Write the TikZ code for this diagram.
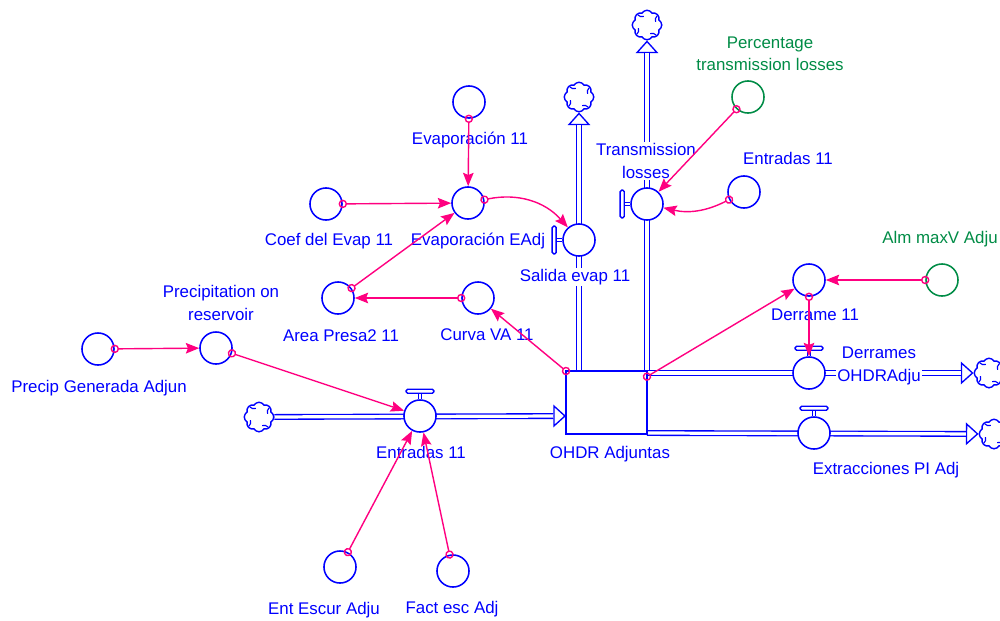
\documentclass[tikz,border=0pt]{standalone}
\usepackage{fontspec}
\setmainfont{Liberation Sans}
\usepackage{tikz}
\usetikzlibrary{positioning,arrows.meta,shapes.symbols}
\pgfdeclarelayer{back}
\pgfsetlayers{back,main}

\definecolor{vblue}{RGB}{0,0,255}
\definecolor{vgreen}{RGB}{0,140,70}
\definecolor{vpink}{RGB}{255,0,128}

\begin{document}
\begin{tikzpicture}[x=0.025cm,y=-0.025cm,
aux/.style={
circle,
draw=vblue,
fill=white,
line width=1.1pt,
minimum size=22.8pt,
inner sep=0pt
},
gaux/.style={aux,draw=vgreen},
valve/.style={aux},
stock/.style={
rectangle,
draw=vblue,
fill=white,
line width=0.9pt,
minimum width=57.6pt,
minimum height=44.8pt,
inner sep=0pt,
outer sep=0pt
},
cloudy/.style={
cloud,cloud puffs=8,cloud puff arc=120,aspect=1,
draw=vblue,fill=white,line width=1pt,
minimum size=21pt,inner sep=0pt,
path picture={
\foreach \a in {20,110,200,290}
\draw[vblue,line width=0.8pt] (path picture bounding box.center) ++(\a:6.5pt) arc[start angle=\a+180,delta angle=-70,radius=4pt];
}
},
pipe/.style={draw=vblue,line width=0.95pt,double=white,double distance=2.3pt},
pipehead/.style={draw=vblue,line width=0.95pt,-{Triangle[width=16pt,length=9pt,fill=white]}},
tapstem/.style={draw=vblue,line width=0.7pt,double=white,double distance=1.6pt},
tapbar/.style={draw=vblue,line width=1pt,fill=white,rounded corners=1.2pt},
lbl/.style={text=vblue,font=\fontsize{12}{16}\selectfont,align=center,inner sep=1pt,fill=white},
glbl/.style={lbl,text=vgreen},
link/.style={draw=vpink,line width=1pt,
{Circle[open,length=6pt,width=6pt]}-{Stealth[length=9.5pt,width=7.5pt,inset=1.5pt]},
shorten <=-3pt}
]
\useasboundingbox (0,0) rectangle (1000,620);

% stock and clouds
\node[stock] (ohdr) at (606.5,402.5) {};
\node[cloudy] (cloudIn) at (259,417) {};
\node[cloudy] (cloudSal) at (579,97) {};
\node[cloudy] (cloudTrans) at (647,25) {};
\node[cloudy] (cloudDer) at (989,373) {};
\node[cloudy] (cloudExt) at (994,434) {};

% valves
\node[valve] (entradasV) at (420,416) {};
\node[valve] (salidaV) at (579,240) {};
\node[valve] (transV) at (647,204) {};
\node[valve] (derramesV) at (809,373) {};
\node[valve] (extraccV) at (814,433) {};
\foreach \v in {entradasV,derramesV,extraccV}{
\draw[tapstem] (\v.north) -- ++(0,-6);
\draw[tapbar] ([shift={(-14,-10)}]\v.north) rectangle ++(28,4);
}
\foreach \v in {salidaV,transV}{
\draw[tapstem] (\v.west) -- ++(-6,0);
\draw[tapbar] ([shift={(-10,-14)}]\v.west) rectangle ++(4,28);
}

% pipes
\begin{pgfonlayer}{back}
\draw[pipehead] (entradasV) -- (entradasV -| ohdr.west);
\draw[pipe,shorten >=9pt] (cloudIn) -- (entradasV -| ohdr.west);
\draw[pipehead] (salidaV) -- (cloudSal);
\draw[pipe,shorten >=9pt] (ohdr.north -| salidaV) -- (cloudSal);
\draw[pipehead] (transV) -- (cloudTrans);
\draw[pipe,shorten >=9pt] (ohdr.north -| transV) -- (cloudTrans);
\draw[pipehead] (derramesV) -- (cloudDer);
\draw[pipe,shorten >=9pt] (ohdr.east |- derramesV) -- (cloudDer);
\draw[pipehead] (extraccV) -- (cloudExt);
\draw[pipe,shorten >=9pt] (ohdr.east |- extraccV) -- (cloudExt);
\end{pgfonlayer}

% auxiliaries
\node[aux] (evap11) at (469,102) {};
\node[aux] (evapEAdj) at (468,203) {};
\node[aux] (coefEvap) at (326,204) {};
\node[aux] (areaPresa) at (338,298) {};
\node[aux] (curvaVA) at (478,298) {};
\node[aux] (precipRes) at (216,348) {};
\node[aux] (precipGen) at (98,349) {};
\node[aux] (entEscur) at (340,567) {};
\node[aux] (factEsc) at (453,571) {};
\node[aux] (entradasAux) at (744,192) {};
\node[aux] (derrame11) at (809,280) {};
\node[gaux] (almMax) at (942,280) {};
\node[gaux] (pctTrans) at (748,97) {};

% labels
\node[lbl] (ohdrLbl) at (610,454) {OHDR Adjuntas};
\node[lbl] (entradasVLbl) at (421,452) {Entradas 11};
\node[lbl] (salidaVLbl) at (575,277) {Salida evap 11};
\node[lbl] (transVLbl) at (646,161) {Transmission\\losses};
\node[lbl] (derramesVLbl) at (879,366) {Derrames\\OHDRAdju};
\node[lbl] (extraccVLbl) at (886,470) {Extracciones PI Adj};
\node[lbl] (evap11Lbl) at (470,140) {Evaporación 11};
\node[lbl] (evapEAdjLbl) at (478,241) {Evaporación EAdj};
\node[lbl] (coefEvapLbl) at (329,241) {Coef del Evap 11};
\node[lbl] (areaPresaLbl) at (341,336) {Area Presa2 11};
\node[lbl] (curvaVALbl) at (487,335) {Curva VA 11};
\node[lbl] (precipResLbl) at (221,303) {Precipitation on\\reservoir};
\node[lbl] (precipGenLbl) at (99,388) {Precip Generada Adjun};
\node[lbl] (entEscurLbl) at (324,610) {Ent Escur Adju};
\node[lbl] (factEscLbl) at (452,609) {Fact esc Adj};
\node[lbl] (entradasAuxLbl) at (788,158) {Entradas 11};
\node[lbl] (derrame11Lbl) at (815,315) {Derrame 11};
\node[glbl] (almMaxLbl) at (940,239) {Alm maxV Adju};
\node[glbl] (pctTransLbl) at (770,54) {Percentage\\transmission losses};

% links
\draw[link] (evap11) -- (evapEAdj);
\draw[link] (coefEvap) -- (evapEAdj);
\draw[link] (areaPresa) -- (evapEAdj);
\draw[link] (curvaVA) -- (areaPresa);
\draw[link] (ohdr.north west) -- (curvaVA);
\draw[link] (evapEAdj) to[bend left=30] (salidaV);
\draw[link] (pctTrans) -- (transV);
\draw[link] (entradasAux) to[bend left=20] (transV);
\draw[link] ([yshift=-4pt]ohdr.north east) -- (derrame11);
\draw[link] (almMax) -- (derrame11);
\draw[link] (derrame11) -- (derramesV);
\draw[link] (precipGen) -- (precipRes);
\draw[link] (precipRes) -- (entradasV);
\draw[link] (entEscur) -- (entradasV);
\draw[link] (factEsc) -- (entradasV);
\end{tikzpicture}
\end{document}
